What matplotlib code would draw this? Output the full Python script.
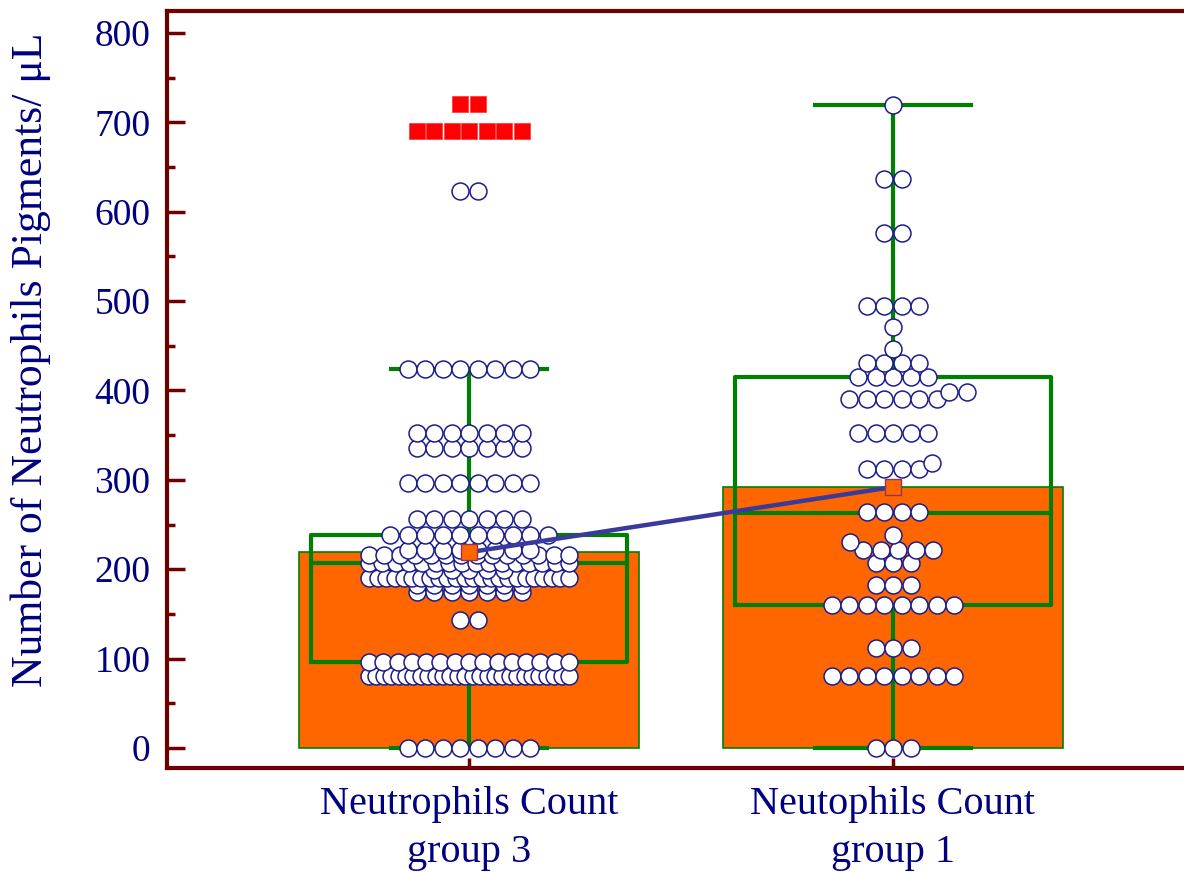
import numpy as np
import matplotlib.pyplot as plt

plt.rcParams['font.family'] = ['Liberation Serif', 'DejaVu Serif']

groups = ["Neutrophils Count\ngroup 3", "Neutophils Count\ngroup 1"]

# dot plot: distinct values and how many observations share them
g3_values = [0, 80, 96, 143, 175, 182, 190, 199, 207, 216, 221, 238, 256, 296, 336, 352, 424, 623]
g3_counts = [8, 28, 15, 2, 7, 7, 24, 5, 16, 14, 8, 10, 7, 8, 7, 7, 8, 2]
# far-out values (red squares)
g3_far_values = [690, 720]
g3_far_counts = [7, 2]

g1_values = [0, 80, 112, 160, 182, 207, 222, 230, 238, 264, 312, 319, 352,
             390, 398, 415, 431, 446, 471, 494, 576, 637, 719]
g1_counts = [3, 8, 3, 8, 3, 3, 5, 1, 1, 4, 4, 1, 5,
             6, 2, 5, 4, 1, 1, 4, 2, 2, 1]

means = [219, 292]
q1 = [96, 160]
medians = [207, 263]
q3 = [238, 415]
whisk_lo = [0, 0]
whisk_hi = [424, 719]

navy = '#000080'
dark_red = '#700000'
green = '#008000'
orange = '#ff6600'

fig = plt.figure(figsize=(11.84, 8.72), dpi=100)
ax = fig.add_axes([167/1184, 104/872, (1192-167)/1184, (768-11)/872])
ax.set_xlim(-302/424, (1192-469)/424)
ax.set_ylim(-22.4, 824.6)

x = np.arange(len(groups))

# bars = means
ax.bar(x, means, width=0.8, color=orange, edgecolor=green, linewidth=1.2, zorder=1)

# box and whiskers
bw = 0.745
cw = 0.37
for i in x:
    ax.plot([i - bw/2, i + bw/2, i + bw/2, i - bw/2, i - bw/2],
            [q1[i], q1[i], q3[i], q3[i], q1[i]], color=green, lw=3, zorder=2)
    ax.plot([i - bw/2, i + bw/2], [medians[i]] * 2, color=green, lw=3, zorder=2)
    ax.plot([i, i], [whisk_lo[i], q1[i]], color=green, lw=3, zorder=2)
    ax.plot([i, i], [q3[i], whisk_hi[i]], color=green, lw=3, zorder=2)
    ax.plot([i - cw/2, i + cw/2], [whisk_lo[i]] * 2, color=green, lw=3, zorder=2)
    ax.plot([i - cw/2, i + cw/2], [whisk_hi[i]] * 2, color=green, lw=3, zorder=2)

# pixel scales for laying out the dots
p0 = ax.transData.transform((0, 0))
p1 = ax.transData.transform((1, 100))
px_x = p1[0] - p0[0]
px_y = (p1[1] - p0[1]) / 100


def layout(values, counts, d=17.5, max_half=100, hit=14):
    placed = []
    out_x, out_y = [], []
    for v, n in zip(values, counts):
        step = d if n == 1 else min(d, 2 * max_half / (n - 1))
        offs = (np.arange(n) - (n - 1) / 2) * step
        yp = v * px_y
        best = offs
        for s in range(0, 101):
            found = False
            for sh in ([0] if s == 0 else [s, -s]):
                cand = offs + sh
                if np.abs(cand).max() > max_half:
                    continue
                ok = all((cx - px) ** 2 + (yp - py) ** 2 >= hit ** 2
                         for cx in cand for px, py in placed)
                if ok:
                    best = cand
                    found = True
                    break
            if found:
                break
        placed += [(c, yp) for c in best]
        out_x += list(best / px_x)
        out_y += [v] * n
    return np.array(out_x), np.array(out_y)


dot_style = dict(linestyle='none', marker='o', markersize=12.2, markerfacecolor='white',
                 markeredgecolor='#1c1c8c', markeredgewidth=1.1, zorder=3)

dx3, dy3 = layout(g3_values, g3_counts)
ax.plot(x[0] + dx3, dy3, **dot_style)
dx1, dy1 = layout(g1_values, g1_counts)
ax.plot(x[1] + dx1, dy1, **dot_style)

fx, fy = layout(g3_far_values, g3_far_counts)
ax.plot(x[0] + fx, fy, linestyle='none', marker='s', markersize=11.5,
        markerfacecolor='#ff0000', markeredgecolor='#ff3030', markeredgewidth=0.5, zorder=3)

# line connecting the means
ax.plot(x, means, color='#3a3a9c', lw=3.2, zorder=4)
ax.plot(x, means, linestyle='none', marker='s', markersize=11, markerfacecolor=orange,
        markeredgecolor='#993355', markeredgewidth=1, zorder=5)

# axes styling
for side in ['left', 'bottom', 'top']:
    ax.spines[side].set_color(dark_red)
    ax.spines[side].set_linewidth(3)
ax.spines['right'].set_visible(False)

ax.set_yticks(np.arange(0, 801, 100))
ax.set_yticks(np.arange(50, 801, 100), minor=True)
ax.set_xticks(x)
ax.set_xticklabels(groups)
ax.tick_params(axis='y', which='major', direction='in', length=13, width=2.5,
               color=dark_red, labelsize=27, labelcolor=navy, pad=12)
ax.tick_params(axis='y', which='minor', direction='in', length=6, width=2.5, color=dark_red)
ax.tick_params(axis='x', which='major', direction='in', length=7, width=2.5,
               color=dark_red, labelsize=29, labelcolor=navy, pad=13)
for lab in ax.get_xticklabels():
    lab.set_linespacing(1.38)

fig.text(31/1184, 1 - 360/872, "Number of Neutrophils Pigments/ μL", rotation=90,
         ha='center', va='center', fontsize=31.5, color=navy)

fig.savefig('out.png', dpi=100)
